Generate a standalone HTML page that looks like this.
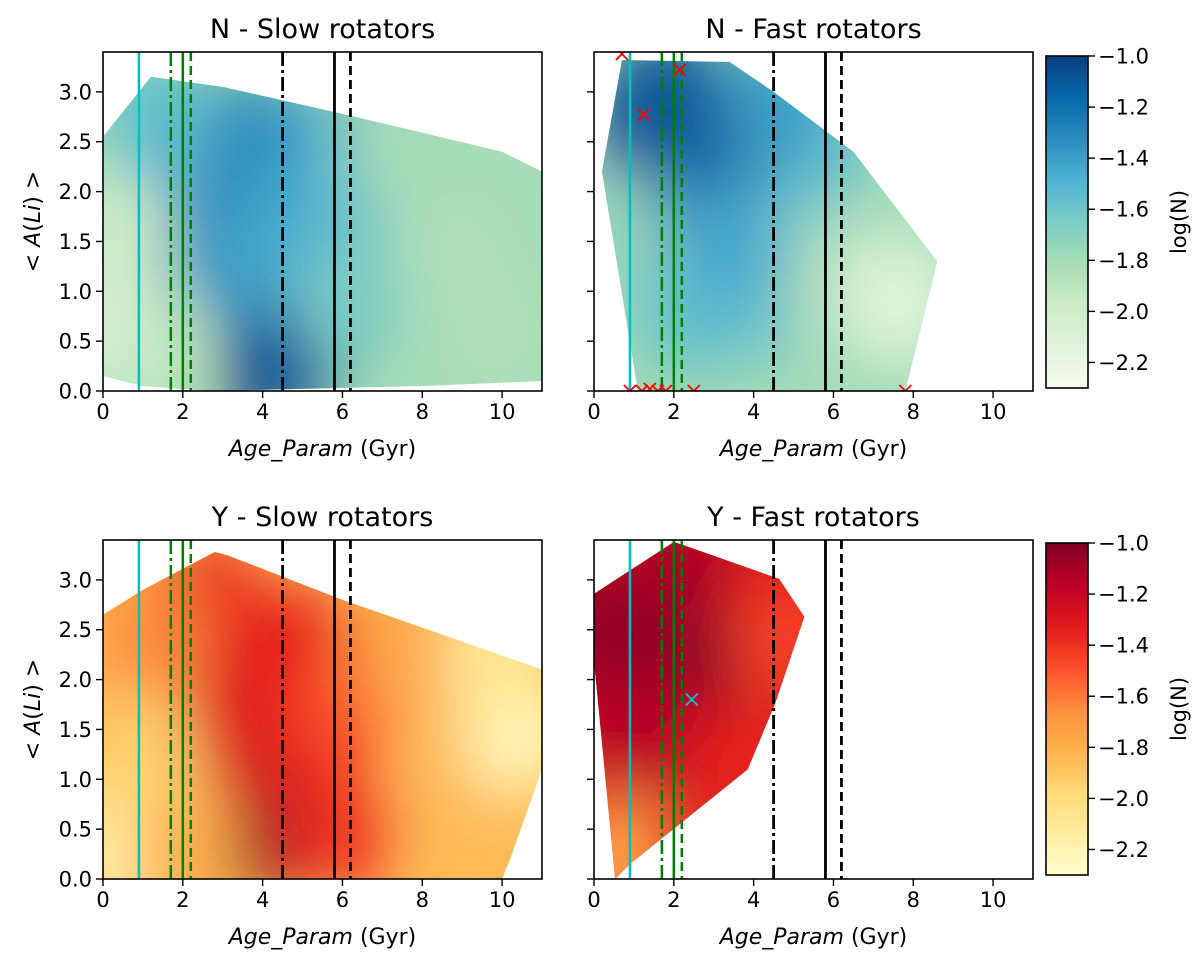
<!DOCTYPE html>
<html><head><meta charset="utf-8"><style>
html,body{margin:0;padding:0;background:#fff;}
svg text{font-family:"DejaVu Sans","Liberation Sans",sans-serif;fill:#000;}
</style></head><body>
<svg id="fig" width="1200" height="956" viewBox="0 0 1200 956" xmlns="http://www.w3.org/2000/svg">
<defs>
<filter id="blur" x="-50%" y="-50%" width="200%" height="200%"><feGaussianBlur stdDeviation="30"/></filter>
</defs>
</svg>
<script>
// ---- data ----
const xTicks=[0,2,4,6,8,10];
const yTicks=[0,0.5,1,1.5,2,2.5,3];
const cbTicks=[-1.0,-1.2,-1.4,-1.6,-1.8,-2.0,-2.2];
const vlineAges=[0.9,1.7,2.0,2.2,4.5,5.8,6.2];
const vlineKinds=["cyan","gdashdot","gsolid","gdashed","kdashdot","ksolid","kdashed"];
// hulls (age, A(Li))
const nsHullAge=[0,1.2,3,6,10,11,11,8,2.7,1,0];
const nsHullLi=[2.55,3.15,3.05,2.78,2.4,2.2,0.1,0.05,0.0,0.05,0.15];
const nsBase=-1.8;
const nsBlobAge=[4.3,4.8,2.2,3.6,5.4,3.0,4.6,6.6,8.8,9.8,0.2,0.3,1.2,6.2,1.4,7.5];
const nsBlobLi=[0.25,0.5,2.4,2.5,2.35,1.3,1.5,2.2,1.4,0.6,0.6,1.6,0.5,0.9,2.7,2.4];
const nsBlobVal=[-1.0,-1.1,-1.3,-1.3,-1.4,-1.35,-1.45,-1.55,-1.85,-1.85,-2.2,-2.0,-1.95,-1.65,-1.55,-1.8];
const nfHullAge=[0.7,3.4,4.5,6.5,8.6,7.8,1.1,0.2];
const nfHullLi=[3.32,3.3,3.0,2.4,1.3,0.0,0.0,2.2];
const nfBase=-1.8;
const nfBlobAge=[2.6,1.4,3.4,1.2,1.9,2.8,2.5,4.0,5.6,7.6,5.4,4.6,0.4,3.6];
const nfBlobLi=[2.4,2.8,2.2,2.2,3.0,1.7,0.8,0.9,1.3,0.9,2.4,2.9,1.6,1.4];
const nfBlobVal=[-1.0,-1.0,-1.05,-1.1,-1.1,-1.25,-1.55,-1.6,-1.85,-2.15,-1.55,-1.4,-1.75,-1.45];
const nfMarkAge=[0.7,1.25,2.15,0.9,1.2,1.4,1.6,1.8,2.5,7.8];
const nfMarkLi=[3.38,2.77,3.22,0.0,0.0,0.02,0.0,0.0,0.0,0.0];
const ysHullAge=[0,0,1,2.8,3.1,6,11,11,10.2,10];
const ysHullLi=[0,2.65,2.9,3.28,3.25,2.8,2.1,1.1,0.2,0.0];
const ysBase=-1.85;
const ysBlobAge=[4.0,4.6,3.0,2.6,3.5,5.0,5.8,6.0,7.5,8.5,0.2,10.4,1.2,2.0,9.8,1.0];
const ysBlobLi=[0.5,0.8,2.4,2.8,1.5,2.3,1.6,0.5,2.2,1.0,0.3,1.5,2.4,0.4,2.2,1.2];
const ysBlobVal=[-1.0,-1.1,-1.25,-1.35,-1.3,-1.35,-1.45,-1.4,-1.75,-1.85,-2.2,-2.25,-1.65,-1.8,-2.1,-1.95];
const yfHullAge=[0,2.0,2.16,4.64,5.27,4.54,3.85,0.9,0.53,0];
const yfHullLi=[2.86,3.38,3.36,3.01,2.63,1.76,1.1,0.15,0.0,2.19];
const yfBase=-1.3;
const yfBlobAge=[1.4,2.9,1.0,2.5,4.8,0.6,3.6,2.0,0.2];
const yfBlobLi=[2.3,2.2,1.5,1.3,2.4,0.2,1.1,3.0,2.5];
const yfBlobVal=[-1.0,-1.0,-1.15,-1.15,-1.45,-1.75,-1.35,-1.1,-1.05];
const yfMarkAge=[2.45];
const yfMarkLi=[1.8];

// ---- colormaps ----
const GnBu=["#f7fcf0","#e0f3db","#ccebc5","#a8ddb5","#7bccc4","#4eb3d3","#2b8cbe","#0868ac","#084081"];
const YlOrRd=["#ffffcc","#ffeda0","#fed976","#feb24c","#fd8d3c","#fc4e2a","#e31a1c","#bd0026","#800026"];
const VMIN=-2.3,VMAX=-1.0;
function hx(c){return [1,3,5].map(i=>parseInt(c.substr(i,2),16));}
function cmap(stops,v){
  let t=(v-VMIN)/(VMAX-VMIN);t=Math.max(0,Math.min(1,t));
  const p=t*(stops.length-1),i=Math.min(Math.floor(p),stops.length-2),f=p-i;
  const a=hx(stops[i]),b=hx(stops[i+1]);
  return "rgb("+a.map((x,k)=>Math.round(x+(b[k]-x)*f)).join(",")+")";
}
const NS="http://www.w3.org/2000/svg";
const svg=document.getElementById('fig');
function el(tag,attrs,parent){const e=document.createElementNS(NS,tag);for(const k in attrs)e.setAttribute(k,attrs[k]);(parent||svg).appendChild(e);return e;}

// ---- panels ----
const panels=[
 {id:"n-slow",title:"N - Slow rotators",x0:103,yTop:52,yBot:391,ylab:true,cm:GnBu,hA:nsHullAge,hL:nsHullLi,base:nsBase,bA:nsBlobAge,bL:nsBlobLi,bV:nsBlobVal,mA:[],mL:[],mc:"red"},
 {id:"n-fast",title:"N - Fast rotators",x0:594,yTop:52,yBot:391,ylab:false,cm:GnBu,hA:nfHullAge,hL:nfHullLi,base:nfBase,bA:nfBlobAge,bL:nfBlobLi,bV:nfBlobVal,mA:nfMarkAge,mL:nfMarkLi,mc:"#ff0000"},
 {id:"y-slow",title:"Y - Slow rotators",x0:103,yTop:540,yBot:879,ylab:true,cm:YlOrRd,hA:ysHullAge,hL:ysHullLi,base:ysBase,bA:ysBlobAge,bL:ysBlobLi,bV:ysBlobVal,mA:[],mL:[],mc:"red"},
 {id:"y-fast",title:"Y - Fast rotators",x0:594,yTop:540,yBot:879,ylab:false,cm:YlOrRd,hA:yfHullAge,hL:yfHullLi,base:yfBase,bA:yfBlobAge,bL:yfBlobLi,bV:yfBlobVal,mA:yfMarkAge,mL:yfMarkLi,mc:"#17becf"}
];
const W=439;
panels.forEach((p,pi)=>{
  const sx=a=>p.x0+a/11*W;
  const sy=v=>p.yBot-v/3.4*(p.yBot-p.yTop);
  const g=el('g',{});
  
  
  const cid='clipAx'+pi, hid='clipHull'+pi;
  const cp=el('clipPath',{id:cid},g);el('rect',{x:p.x0,y:p.yTop,width:W,height:p.yBot-p.yTop},cp);
  const pts=p.hA.map((a,i)=>sx(a)+","+sy(p.hL[i])).join(" ");
  const hp=el('clipPath',{id:hid},g);el('polygon',{points:pts},hp);
  const hull=el('polygon',{points:pts,fill:cmap(p.cm,p.base)},g);
  
  
  const hg=el('g',{'clip-path':'url(#'+hid+')'},g);
  const bg=el('g',{filter:'url(#blur)'},hg);
  p.bA.forEach((a,i)=>{
    const c=el('ellipse',{cx:sx(a),cy:sy(p.bL[i]),rx:55,ry:65,fill:cmap(p.cm,p.bV[i])},bg);
    
    
  });
  // vertical lines
  const lg=el('g',{'clip-path':'url(#'+cid+')'},g);
  vlineAges.forEach((a,i)=>{
    const k=vlineKinds[i];
    const col=k==="cyan"?"#00bfbf":(k[0]==="g"?"#008000":"#000");
    const dash=k.endsWith("dashdot")?"14 4 3 4":(k.endsWith("dashed")?"9 5":"none");
    const l=el('line',{x1:sx(a),x2:sx(a),y1:p.yTop,y2:p.yBot,stroke:col,'stroke-width':k[0]==="k"?2.8:2.5,'stroke-dasharray':dash},lg);
    
    
  });
  p.mA.forEach((a,i)=>{
    const x=sx(a),y=sy(p.mL[i]),s=6;
    const m=el('path',{d:`M${x-s},${y-s}L${x+s},${y+s}M${x-s},${y+s}L${x+s},${y-s}`,stroke:p.mc,'stroke-width':1.8,fill:'none'},lg);
    
    
  });
  // frame
  const fr=el('rect',{x:p.x0,y:p.yTop,width:W,height:p.yBot-p.yTop,fill:'none',stroke:'#000','stroke-width':1.6},g);
  
  
  xTicks.forEach(t=>{
    el('line',{x1:sx(t),x2:sx(t),y1:p.yBot,y2:p.yBot+7,stroke:'#000','stroke-width':1.4},g);
    const tx=el('text',{x:sx(t),y:p.yBot+28,'text-anchor':'middle','font-size':21},g);tx.textContent=t;
    
    
  });
  yTicks.forEach(t=>{
    el('line',{x1:p.x0-7,x2:p.x0,y1:sy(t),y2:sy(t),stroke:'#000','stroke-width':1.4},g);
    if(p.ylab){const ty=el('text',{x:p.x0-11,y:sy(t)+7.5,'text-anchor':'end','font-size':21},g);ty.textContent=t.toFixed(1);
      
      }
  });
  const ti=el('text',{x:p.x0+W/2,y:p.yTop-14,'text-anchor':'middle','font-size':27},g);ti.textContent=p.title;
  
  
  const xl=el('text',{x:p.x0+W/2,y:p.yBot+65,'text-anchor':'middle','font-size':22},g);
  xl.innerHTML='<tspan font-style="italic">Age_Param</tspan> (Gyr)';
  
  
  if(p.ylab){
    const cy=(p.yTop+p.yBot)/2;
    const yl=el('text',{x:0,y:0,'text-anchor':'middle','font-size':22,transform:`translate(40,${cy}) rotate(-90)`},g);
    yl.innerHTML='&lt; <tspan font-style="italic">A</tspan>(<tspan font-style="italic">Li</tspan>) &gt;';
    
    
  }
});
// ---- colorbars ----
[{id:"n",cm:GnBu,top:56,bot:388},{id:"y",cm:YlOrRd,top:543,bot:875}].forEach(c=>{
  const g=el('g',{});
  
  
  const gid='grad'+c.id;
  const lg=el('linearGradient',{id:gid,x1:0,y1:1,x2:0,y2:0},g);
  c.cm.forEach((s,i)=>el('stop',{offset:i/(c.cm.length-1),'stop-color':s},lg));
  el('rect',{x:1046,y:c.top,width:42,height:c.bot-c.top,fill:'url(#'+gid+')',stroke:'#000','stroke-width':1.6},g);
  const sy=v=>c.bot-(v-VMIN)/(VMAX-VMIN)*(c.bot-c.top);
  cbTicks.forEach(t=>{
    el('line',{x1:1088,x2:1095,y1:sy(t),y2:sy(t),stroke:'#000','stroke-width':1.4},g);
    const tx=el('text',{x:1098,y:sy(t)+7.5,'font-size':21},g);tx.textContent='\u2212'+Math.abs(t).toFixed(1);
    
    
  });
  const cy=(c.top+c.bot)/2;
  const lb=el('text',{x:0,y:0,'text-anchor':'middle','font-size':21,transform:`translate(1186,${cy}) rotate(-90)`},g);
  lb.textContent='log(N)';
  
  
});
</script>
</body></html>
